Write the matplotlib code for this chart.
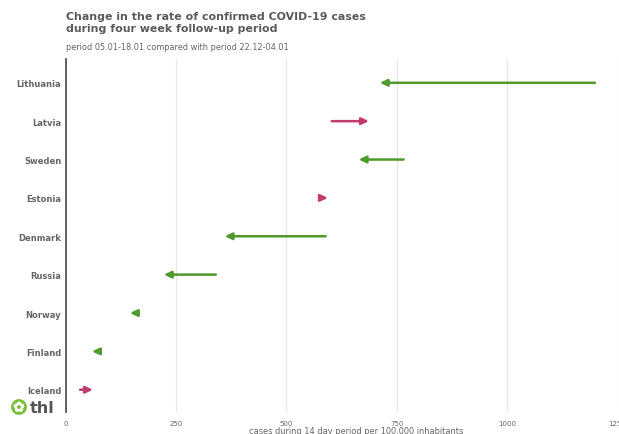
import matplotlib
matplotlib.use('Agg')
import matplotlib.pyplot as plt
from matplotlib.patches import Circle
import numpy as np

# Rate per 100,000 (14 day period): previous period -> current period
countries = ['Lithuania', 'Latvia', 'Sweden', 'Estonia', 'Denmark',
             'Russia', 'Norway', 'Finland', 'Iceland']
prev_rate = [1200, 603, 766, 577, 589, 340, 161, 75, 32]
curr_rate = [712, 687, 664, 594, 360, 222, 145, 59, 61]
x_ticks = [0, 250, 500, 750, 1000, 1250]

GREEN = '#4f9a2d'
PINK = '#c23b6e'
GREY = '#666666'

W, H = 619, 435
fig = plt.figure(figsize=(W / 100, H / 100), dpi=100)
ax = fig.add_axes([66 / W, 1 - 413 / H, (617 - 66) / W, (413 - 60) / H])

for i, (a, b) in enumerate(zip(prev_rate, curr_rate)):
    color = GREEN if b < a else PINK
    ax.annotate('', xy=(b, i), xytext=(a, i),
                arrowprops=dict(arrowstyle='-|>,head_length=0.42,head_width=0.2',
                                color=color, lw=1.8, shrinkA=0, shrinkB=0))

ax.set_xlim(0, 1250)
ax.set_ylim(len(countries) - 0.42, -0.62)
ax.set_yticks(range(len(countries)))
ax.set_yticklabels(countries, fontsize=6, fontweight='bold', color=GREY)
ax.set_xticks(x_ticks)
ax.set_xticklabels([str(t) for t in x_ticks], fontsize=5, color=GREY)
ax.tick_params(axis='y', length=0, pad=3.5)
ax.tick_params(axis='x', length=0, pad=6)
ax.grid(axis='x', color='#e8e8e8', linewidth=0.9)
ax.set_axisbelow(True)
for s in ['top', 'right', 'bottom']:
    ax.spines[s].set_visible(False)
ax.spines['left'].set_color('#555555')
ax.spines['left'].set_linewidth(1.3)

title_lines = ['Change in the rate of confirmed COVID-19 cases',
               'during four week follow-up period']
for yy, line in zip([17, 29], title_lines):
    fig.text(66 / W, 1 - yy / H, line, fontsize=7.9, fontweight='bold',
             color='#5a5a5a', va='center', ha='left')
fig.text(66 / W, 1 - 47 / H, 'period 05.01-18.01 compared with period 22.12-04.01',
         fontsize=5.9, color=GREY, va='center', ha='left')
fig.text(356 / W, 1 - 432 / H, 'cases during 14 day period per 100,000 inhabitants',
         fontsize=5.95, color=GREY, va='center', ha='center')

# thl logo
cx, cy = 19, H - 408
fig.patches.append(Circle((cx, cy), 7.2, transform=None, color='#7bbf3a', figure=fig))
for k in range(5):
    ang = np.pi / 2 + k * 2 * np.pi / 5
    fig.patches.append(Circle((cx + 3.0 * np.cos(ang), cy + 3.0 * np.sin(ang)), 1.7,
                              transform=None, color='white', figure=fig))
fig.patches.append(Circle((cx, cy), 1.2, transform=None, color='#7bbf3a', figure=fig))
fig.text(30 / W, 1 - 409 / H, 'thl', fontsize=11.5, fontweight='bold', color='#555555',
         va='center', ha='left')

fig.savefig('out.png', dpi=100)
